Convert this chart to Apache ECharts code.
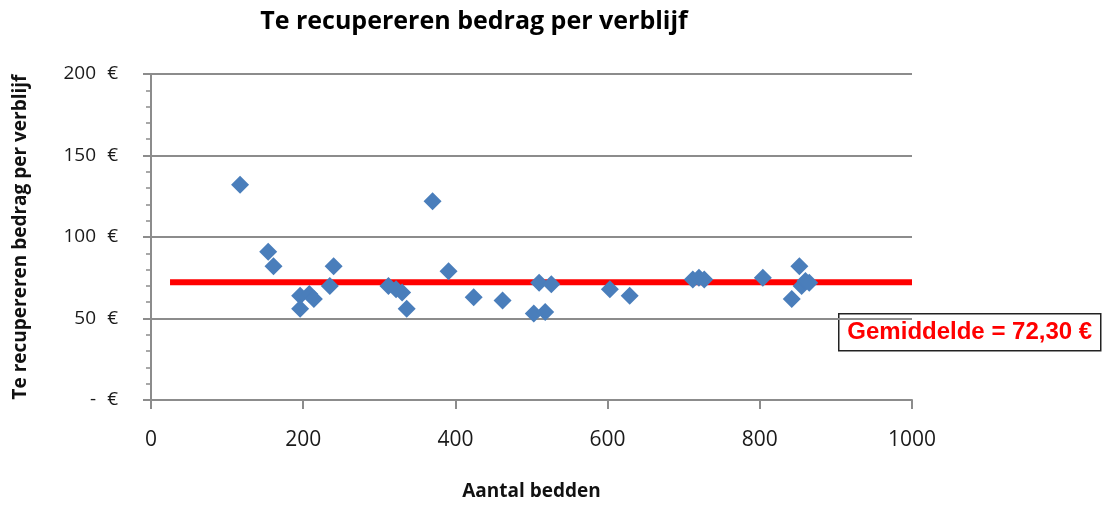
<!DOCTYPE html>
<html>
<head>
<meta charset="utf-8">
<script src="https://cdn.jsdelivr.net/npm/echarts@6/dist/echarts.min.js"></script>
<style>
  html, body { margin: 0; padding: 0; background: #fff; }
  #chart { width: 1106px; height: 506px; }
</style>
</head>
<body>
<div id="chart"></div>
<script>
// Number of beds per facility
const beds = [117, 154, 161, 196, 196, 208, 214, 235, 240, 312, 322, 330, 336, 370,
  391, 424, 462, 503, 510, 518, 526, 603, 629, 712, 720, 727, 804, 842, 852, 855, 860, 865];
// Amount to recover per stay (EUR)
const amounts = [132, 91, 82, 64, 56, 65, 62, 70, 82, 70, 68, 66, 56, 122,
  79, 63, 61, 53, 72, 54, 71, 68, 64, 74, 75, 74, 75, 62, 82, 70, 73, 72];
// Average amount and the x-span of its reference line
const average = 72.30;
const averageSpan = [25, 1000];
const yTicks = [0, 50, 100, 150, 200];
const xTicks = [0, 200, 400, 600, 800, 1000];

const points = beds.map((b, i) => [b, amounts[i]]);
const fmtEuro = v => v.toFixed(2).replace('.', ',') + ' €';

const chart = echarts.init(document.getElementById('chart'));
chart.setOption({
  animation: false,
  backgroundColor: '#ffffff',
  title: {
    text: 'Te recupereren bedrag per verblijf',
    left: 469, top: 4, textAlign: 'center',
    textStyle: { fontFamily: 'Open Sans', fontWeight: 'bold', fontSize: 25, color: '#000' }
  },
  grid: { left: 151, right: 194, top: 74, bottom: 104 },
  xAxis: {
    type: 'value', min: xTicks[0], max: xTicks[xTicks.length - 1], interval: 200,
    name: 'Aantal bedden', nameLocation: 'middle', nameGap: 82,
    nameTextStyle: { fontFamily: 'Open Sans', fontWeight: 'bold', fontSize: 19, color: '#111' },
    axisLine: { show: true, lineStyle: { color: '#8c8c8c', width: 2 } },
    axisTick: { show: true, length: 9, lineStyle: { color: '#8c8c8c', width: 2 } },
    axisLabel: { margin: 30, fontFamily: 'Open Sans', fontSize: 21, color: '#1a1a1a',
      formatter: v => String(v) },
    splitLine: { show: false }
  },
  yAxis: {
    type: 'value', min: yTicks[0], max: yTicks[yTicks.length - 1], interval: 50,
    name: 'Te recupereren bedrag per verblijf', nameLocation: 'middle', nameGap: 121,
    nameTextStyle: { fontFamily: 'Open Sans', fontWeight: 'bold', fontSize: 19, color: '#111' },
    axisLine: { show: true, lineStyle: { color: '#8c8c8c', width: 2 } },
    axisTick: { show: true, length: 8, lineStyle: { color: '#8c8c8c', width: 2 } },
    minorTick: { show: true, splitNumber: 5, length: 5, lineStyle: { color: '#8c8c8c', width: 1.5 } },
    axisLabel: {
      margin: 33, fontFamily: 'Open Sans', fontSize: 19, color: '#1a1a1a',
      formatter: v => '{n|' + (v === 0 ? '-' : v) + '}{e|€}',
      rich: {
        n: { width: 40, align: 'right', fontFamily: 'Open Sans', fontSize: 19, color: '#1a1a1a' },
        e: { width: 22, align: 'right', fontFamily: 'Open Sans', fontSize: 19, color: '#1a1a1a' }
      }
    },
    splitLine: { show: true, lineStyle: { color: '#8c8c8c', width: 2 } }
  },
  series: [
    {
      type: 'line',
      data: averageSpan.map(x => [x, average]),
      symbol: 'none',
      lineStyle: { color: '#ff0000', width: 6 },
      z: 3
    },
    {
      type: 'scatter',
      data: points,
      symbol: 'diamond',
      symbolSize: 18,
      itemStyle: { color: '#4a7ebb', opacity: 1 },
      z: 4
    }
  ],
  graphic: [
    {
      type: 'group', left: 838, top: 313,
      children: [
        { type: 'rect', shape: { x: 0, y: 0, width: 262, height: 37 },
          style: { fill: '#fff', stroke: '#222', lineWidth: 1.5 } },
        { type: 'text', x: 131, y: 19,
          style: { text: 'Gemiddelde = ' + fmtEuro(average), fill: '#ff0000',
            font: 'bold 24px "Liberation Sans"', align: 'center', verticalAlign: 'middle' } }
      ]
    }
  ]
});
</script>
</body>
</html>
